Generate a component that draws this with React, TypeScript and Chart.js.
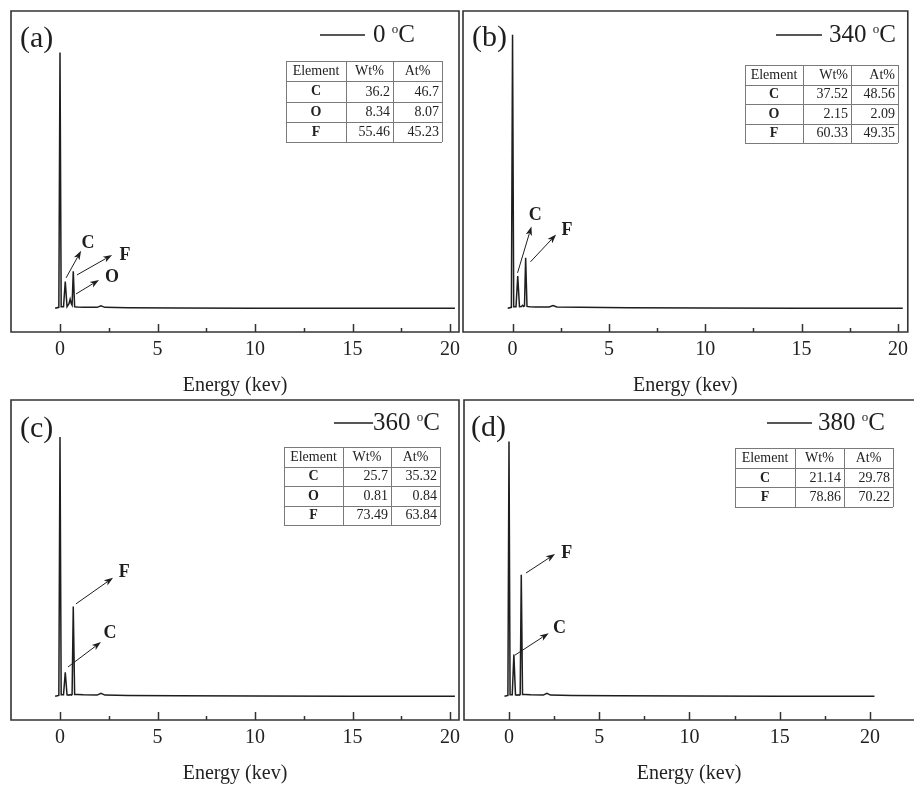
import React, { useEffect, useRef } from "react";
import { Chart, registerables } from "chart.js";
Chart.register(...registerables);

// ---------- data ----------
const ENERGY = [-0.25, -0.06, 0, 0.06, 0.18, 0.27, 0.36, 0.46, 0.52, 0.58, 0.62, 0.68, 0.75, 0.9, 1.2, 1.9, 2.1, 2.3, 3.5, 6, 10, 15, 20.25];
const COUNTS_0C = [0, 0.3, 86, 0.5, 0.5, 9, 0.5, 1.5, 3, 1.5, 1, 12.4, 0.5, 0.4, 0.3, 0.3, 0.8, 0.3, 0.2, 0.1, 0, 0, 0];
const COUNTS_340C = [0, 0.3, 92, 0.5, 0.5, 10.8, 0.5, 0.6, 1, 0.6, 0.8, 17, 0.6, 0.5, 0.4, 0.4, 0.9, 0.4, 0.3, 0.2, 0.1, 0, 0];
const COUNTS_360C = [0, 0.3, 87.5, 0.5, 0.5, 8.1, 0.5, 0.4, 0.6, 0.4, 0.6, 30.3, 0.6, 0.6, 0.5, 0.4, 1.0, 0.4, 0.3, 0.2, 0.1, 0, 0];
const COUNTS_380C = [0, 0.3, 86, 0.5, 0.5, 14.1, 0.5, 0.4, 0.5, 0.4, 0.6, 41, 0.6, 0.6, 0.5, 0.4, 1.0, 0.4, 0.3, 0.2, 0.1, 0, 0];

const X_TICKS = [0, 2.5, 5, 7.5, 10, 12.5, 15, 17.5, 20];
const X_TITLE = "Energy (kev)";
const TEMPS = ["0", "340", "360", "380"];
const TAGS = ["(a)", "(b)", "(c)", "(d)"];
const TABLE_HEAD = ["Element", "Wt%", "At%"];

const ELEMENTS_A = ["C", "O", "F"];
const WT_A = ["36.2", "8.34", "55.46"];
const AT_A = ["46.7", "8.07", "45.23"];
const ELEMENTS_B = ["C", "O", "F"];
const WT_B = ["37.52", "2.15", "60.33"];
const AT_B = ["48.56", "2.09", "49.35"];
const ELEMENTS_C = ["C", "O", "F"];
const WT_C = ["25.7", "0.81", "73.49"];
const AT_C = ["35.32", "0.84", "63.84"];
const ELEMENTS_D = ["C", "F"];
const WT_D = ["21.14", "78.86"];
const AT_D = ["29.78", "70.22"];

// ---------- layout / style ----------
const FONT = "'Liberation Serif', 'Times New Roman', Times, serif";
const INK = "#1e1e1e";
const W = 914;
const H = 785;
const AXIS_H = 64;

const PANELS = [
  {
    counts: COUNTS_0C, temp: TEMPS[0], tag: TAGS[0], rightEdge: true,
    area: { l: 11, t: 11, r: 459, b: 332 }, xMin: -2.513, xMax: 20.46,
    legend: { x1: 320, x2: 365, textRight: 415, y: 35, space: true },
    tagPos: { x: 20, y: 39 },
    table: { cols: [286, 346, 393, 442], top: 61, rowH: 20.25, headAlign: ["center", "center", "center"] },
    rows: { el: ELEMENTS_A, wt: WT_A, at: AT_A },
    arrows: [
      { t: "C", from: [0.31, 10.2], to: [1.08, 19.3], lab: [1.44, 21.9] },
      { t: "F", from: [0.87, 11.2], to: [2.67, 17.9], lab: [3.33, 17.9] },
      { t: "O", from: [0.82, 4.8], to: [2.0, 9.5], lab: [2.67, 10.5] },
    ],
  },
  {
    counts: COUNTS_340C, temp: TEMPS[1], tag: TAGS[1], rightEdge: true,
    area: { l: 463, t: 11, r: 912, b: 332 }, xMin: -2.571, xMax: 20.51,
    legend: { x1: 776, x2: 822, textRight: 896, y: 35, space: true },
    tagPos: { x: 472, y: 38 },
    table: { cols: [745, 803, 851, 898], top: 65, rowH: 19.5, headAlign: ["center", "right", "right"] },
    rows: { el: ELEMENTS_B, wt: WT_B, at: AT_B },
    arrows: [
      { t: "C", from: [0.26, 11.9], to: [0.98, 27.5], lab: [1.18, 31.2] },
      { t: "F", from: [0.93, 15.6], to: [2.26, 24.8], lab: [2.83, 26.1] },
    ],
  },
  {
    counts: COUNTS_360C, temp: TEMPS[2], tag: TAGS[2], rightEdge: true,
    area: { l: 11, t: 400, r: 459, b: 720 }, xMin: -2.513, xMax: 20.46,
    legend: { x1: 334, x2: 376, textRight: 440, y: 423, space: false },
    tagPos: { x: 20, y: 429 },
    table: { cols: [284, 343, 391, 440], top: 447, rowH: 19.5, headAlign: ["center", "center", "center"] },
    rows: { el: ELEMENTS_C, wt: WT_C, at: AT_C },
    arrows: [
      { t: "F", from: [0.82, 31.2], to: [2.72, 40.0], lab: [3.3, 41.7] },
      { t: "C", from: [0.41, 9.9], to: [2.1, 18.3], lab: [2.56, 21.3] },
    ],
  },
  {
    counts: COUNTS_380C, temp: TEMPS[3], tag: TAGS[3], rightEdge: false,
    area: { l: 464, t: 400, r: 914, b: 720 }, xMin: -2.493, xMax: 22.44,
    legend: { x1: 767, x2: 812, textRight: 885, y: 423, space: true },
    tagPos: { x: 471, y: 428 },
    table: { cols: [735, 795, 844, 893], top: 448, rowH: 19.7, headAlign: ["center", "center", "center"] },
    rows: { el: ELEMENTS_D, wt: WT_D, at: AT_D },
    arrows: [
      { t: "F", from: [0.94, 41.6], to: [2.55, 48.0], lab: [3.2, 48.3] },
      { t: "C", from: [0.33, 13.9], to: [2.2, 21.3], lab: [2.8, 23.0] },
    ],
  },
];

function drawArrow(ctx: CanvasRenderingContext2D, x1: number, y1: number, x2: number, y2: number) {
  const ang = Math.atan2(y2 - y1, x2 - x1);
  const len = 9, hw = 3.2;
  ctx.beginPath();
  ctx.moveTo(x1, y1);
  ctx.lineTo(x2 - Math.cos(ang) * len * 0.8, y2 - Math.sin(ang) * len * 0.8);
  ctx.lineWidth = 1;
  ctx.strokeStyle = INK;
  ctx.stroke();
  ctx.beginPath();
  ctx.moveTo(x2, y2);
  ctx.lineTo(x2 - Math.cos(ang) * len - Math.sin(ang) * hw, y2 - Math.sin(ang) * len + Math.cos(ang) * hw);
  ctx.lineTo(x2 - Math.cos(ang) * len * 0.75, y2 - Math.sin(ang) * len * 0.75);
  ctx.lineTo(x2 - Math.cos(ang) * len + Math.sin(ang) * hw, y2 - Math.sin(ang) * len - Math.cos(ang) * hw);
  ctx.closePath();
  ctx.fillStyle = INK;
  ctx.fill();
}

function makeDecor(p: any) {
  return {
    id: "decor",
    afterDraw(chart: any) {
      const ctx: CanvasRenderingContext2D = chart.ctx;
      const { left, top, right, bottom } = chart.chartArea;
      const xs = chart.scales.x;
      const ys = chart.scales.y;
      ctx.save();
      // frame
      ctx.strokeStyle = "#333";
      ctx.lineWidth = 1.6;
      ctx.beginPath();
      if (p.rightEdge) {
        ctx.rect(left, top, right - left, bottom - top);
      } else {
        ctx.moveTo(right + 2, top);
        ctx.lineTo(left, top);
        ctx.lineTo(left, bottom);
        ctx.lineTo(right + 2, bottom);
      }
      ctx.stroke();
      // inward ticks
      ctx.lineWidth = 1.5;
      X_TICKS.forEach((v) => {
        const px = Math.round(xs.getPixelForValue(v)) + 0.5;
        const len = v % 5 === 0 ? 8 : 4;
        ctx.beginPath();
        ctx.moveTo(px, bottom);
        ctx.lineTo(px, bottom - len);
        ctx.stroke();
      });
      // panel tag
      ctx.fillStyle = INK;
      ctx.font = `30px ${FONT}`;
      ctx.textAlign = "left";
      ctx.textBaseline = "middle";
      ctx.fillText(p.tag, p.tagPos.x, p.tagPos.y);
      // legend
      const lg = p.legend;
      const num = p.temp + " ";
      ctx.font = `25px ${FONT}`;
      const wC = ctx.measureText("C").width;
      ctx.font = `13px ${FONT}`;
      const wo = ctx.measureText("o").width;
      ctx.font = `25px ${FONT}`;
      const wN = ctx.measureText(num).width;
      const x0 = lg.textRight - wC - wo - wN;
      const lineEnd = lg.space ? lg.x2 : Math.min(lg.x2, x0);
      ctx.beginPath();
      ctx.moveTo(lg.x1, lg.y);
      ctx.lineTo(lineEnd, lg.y);
      ctx.lineWidth = 1.6;
      ctx.strokeStyle = INK;
      ctx.stroke();
      ctx.textAlign = "left";
      ctx.fillText(num, x0, lg.y);
      ctx.font = `13px ${FONT}`;
      ctx.fillText("o", x0 + wN, lg.y - 5);
      ctx.font = `25px ${FONT}`;
      ctx.fillText("C", x0 + wN + wo, lg.y);
      // table
      const tb = p.table;
      const nRows = p.rows.el.length + 1;
      const c = tb.cols;
      const tTop = tb.top;
      const tBot = tb.top + tb.rowH * nRows;
      ctx.strokeStyle = "#7a7a7a";
      ctx.lineWidth = 1;
      for (let r = 0; r <= nRows; r++) {
        const y = Math.round(tTop + r * tb.rowH) + 0.5;
        ctx.beginPath();
        ctx.moveTo(c[0], y);
        ctx.lineTo(c[3], y);
        ctx.stroke();
      }
      c.forEach((cx: number) => {
        const x = Math.round(cx) + 0.5;
        ctx.beginPath();
        ctx.moveTo(x, tTop);
        ctx.lineTo(x, tBot);
        ctx.stroke();
      });
      ctx.fillStyle = "#222";
      ctx.textBaseline = "middle";
      const cellText = (txt: string, col: number, row: number, align: string, bold: boolean) => {
        ctx.font = `${bold ? "bold " : ""}14px ${FONT}`;
        const y = tTop + (row + 0.5) * tb.rowH + 0.5;
        let x: number;
        if (align === "center") { ctx.textAlign = "center"; x = (c[col] + c[col + 1]) / 2; }
        else { ctx.textAlign = "right"; x = c[col + 1] - 3; }
        ctx.fillText(txt, x, y);
      };
      TABLE_HEAD.forEach((h, i) => cellText(h, i, 0, tb.headAlign[i], false));
      p.rows.el.forEach((e: string, i: number) => {
        cellText(e, 0, i + 1, "center", true);
        cellText(p.rows.wt[i], 1, i + 1, "right", false);
        cellText(p.rows.at[i], 2, i + 1, "right", false);
      });
      // arrows + peak labels
      p.arrows.forEach((a: any) => {
        drawArrow(ctx, xs.getPixelForValue(a.from[0]), ys.getPixelForValue(a.from[1]),
          xs.getPixelForValue(a.to[0]), ys.getPixelForValue(a.to[1]));
        ctx.font = `bold 18px ${FONT}`;
        ctx.textAlign = "center";
        ctx.textBaseline = "middle";
        ctx.fillStyle = INK;
        ctx.fillText(a.t, xs.getPixelForValue(a.lab[0]), ys.getPixelForValue(a.lab[1]));
      });
      ctx.restore();
    },
  };
}

function Panel({ p }: { p: any }) {
  const ref = useRef<HTMLCanvasElement>(null);
  useEffect(() => {
    const a = p.area;
    const chart = new Chart(ref.current as HTMLCanvasElement, {
      type: "line",
      data: {
        datasets: [
          {
            data: ENERGY.map((x, i) => ({ x, y: p.counts[i] })),
            borderColor: INK,
            borderWidth: 1.5,
            pointRadius: 0,
            tension: 0,
            fill: false,
          },
        ],
      },
      options: {
        responsive: false,
        animation: false,
        events: [],
        layout: { padding: { left: a.l, top: a.t, right: W - a.r, bottom: H - a.b - AXIS_H } },
        plugins: { legend: { display: false }, tooltip: { enabled: false } },
        scales: {
          x: {
            type: "linear",
            min: p.xMin,
            max: p.xMax,
            afterBuildTicks: (s: any) => { s.ticks = X_TICKS.map((v) => ({ value: v })); },
            afterFit: (s: any) => { s.height = AXIS_H; },
            grid: { display: false, drawTicks: false },
            border: { display: false },
            ticks: {
              padding: 6,
              color: "#222",
              autoSkip: false,
              maxRotation: 0,
              font: { family: FONT, size: 20 },
              callback: (v: any) => (Number(v) % 5 === 0 ? String(v) : ""),
            },
            title: {
              display: true,
              text: X_TITLE,
              color: "#222",
              padding: 0,
              font: { family: FONT, size: 20, lineHeight: 1 },
            },
          },
          y: { display: false, min: -8, max: 100 },
        },
      },
      plugins: [makeDecor(p)],
    } as any);
    return () => chart.destroy();
  }, [p]);
  return <canvas ref={ref} width={W} height={H} style={{ position: "absolute", left: 0, top: 0 }} />;
}

export default function App() {
  return (
    <div style={{ position: "absolute", left: 0, top: 0, width: W, height: H, overflow: "hidden", background: "#fff" }}>
      {PANELS.map((p, i) => (
        <Panel key={i} p={p} />
      ))}
    </div>
  );
}
